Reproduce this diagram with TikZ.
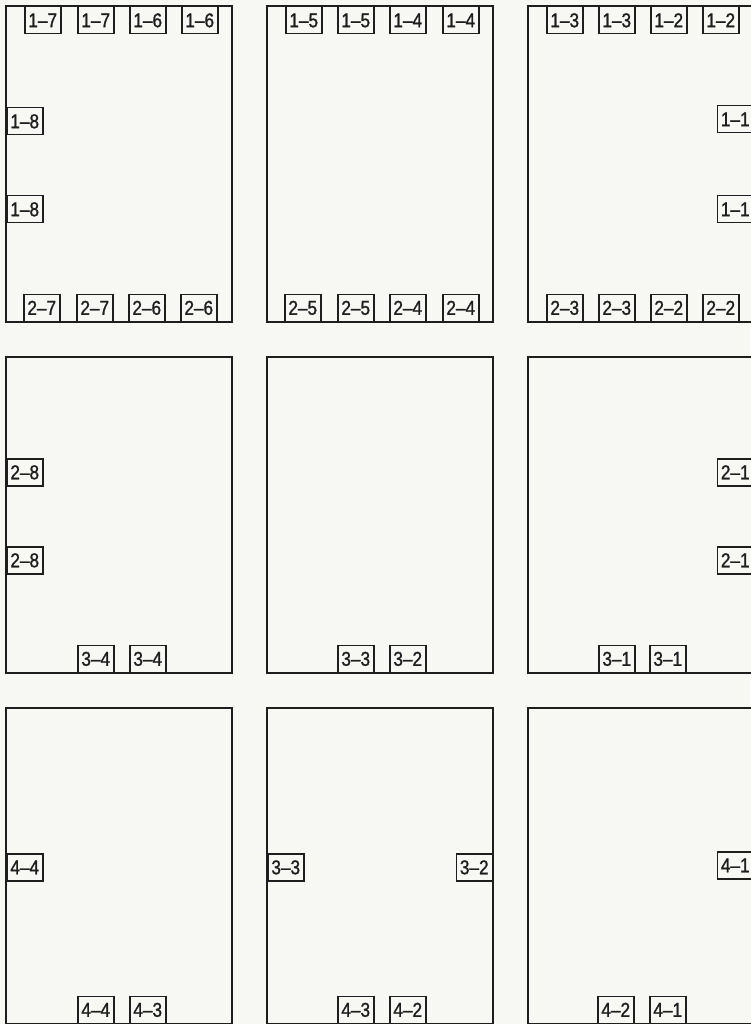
\documentclass[tikz,border=0pt]{standalone}
\usepackage{fontspec}
\setmainfont{Liberation Sans}
\newfontfamily\tagfont{Liberation Sans}[FakeStretch=0.86,FakeBold=1.2]
\usepackage{tikz}
\usetikzlibrary{positioning}
\definecolor{paper}{HTML}{F7F7F4}
\definecolor{ink}{HTML}{1E1E1E}

\begin{document}
\begin{tikzpicture}[
    x=1pt, y=-1pt,
    every node/.style={font=\tagfont\fontsize{20}{20}\selectfont},
    panel/.style={draw=ink, fill=paper, line width=1.9pt},
    tag/.style={draw=ink, fill=paper, line width=1.5pt, minimum width=36pt, minimum height=27pt,
                inner sep=0pt, text height=14pt, text depth=0pt, text=ink}
]

% Page background
\fill[paper] (0,0) rectangle (750,1024);
\useasboundingbox (0,0) rectangle (750,1024);

% Row 1, left panel
\begin{scope}[shift={(6,6)}]
  \draw[panel] (0,0) rectangle (226,316);
  \foreach \x/\t [count=\i] in {18/1–7,71/1–7,123/1–6,175/1–6}
    \node[tag, anchor=north west] (aa-t\i) at (\x,0) {\t};
  \foreach \y [count=\i] in {101,189}
    \node[tag, anchor=north west] (aa-l\i) at (0,\y) {1–8};
  \foreach \x/\t [count=\i] in {17/2–7,70/2–7,122/2–6,174/2–6}
    \node[tag, anchor=south west] (aa-b\i) at (\x,316) {\t};
\end{scope}

% Row 1, middle panel
\begin{scope}[shift={(267,6)}]
  \draw[panel] (0,0) rectangle (226,316);
  \foreach \x/\t [count=\i] in {18/1–5,70/1–5,122/1–4,175/1–4}
    \node[tag, anchor=north west] (ab-t\i) at (\x,0) {\t};
  \foreach \x/\t [count=\i] in {17/2–5,70/2–5,122/2–4,175/2–4}
    \node[tag, anchor=south west] (ab-b\i) at (\x,316) {\t};
\end{scope}

% Row 1, right panel
\begin{scope}[shift={(528,6)}]
  \draw[panel] (0,0) rectangle (226,316);
  \foreach \x/\t [count=\i] in {18/1–3,70/1–3,122/1–2,174/1–2}
    \node[tag, anchor=north west] (ac-t\i) at (\x,0) {\t};
  \foreach \y [count=\i] in {99,189}
    \node[tag, anchor=north east] (ac-r\i) at (226,\y) {1–1};
  \foreach \x/\t [count=\i] in {18/2–3,70/2–3,122/2–2,174/2–2}
    \node[tag, anchor=south west] (ac-b\i) at (\x,316) {\t};
\end{scope}

% Row 2, left panel
\begin{scope}[shift={(6,357)}]
  \draw[panel] (0,0) rectangle (226,316);
  \foreach \y [count=\i] in {101,189}
    \node[tag, anchor=north west] (ba-l\i) at (0,\y) {2–8};
  \foreach \x [count=\i] in {71,123}
    \node[tag, anchor=south west] (ba-b\i) at (\x,316) {3–4};
\end{scope}

% Row 2, middle panel
\begin{scope}[shift={(267,357)}]
  \draw[panel] (0,0) rectangle (226,316);
  \foreach \x/\t [count=\i] in {70/3–3,122/3–2}
    \node[tag, anchor=south west] (bb-b\i) at (\x,316) {\t};
\end{scope}

% Row 2, right panel
\begin{scope}[shift={(528,357)}]
  \draw[panel] (0,0) rectangle (226,316);
  \foreach \y [count=\i] in {101,189}
    \node[tag, anchor=north east] (bc-r\i) at (226,\y) {2–1};
  \foreach \x [count=\i] in {70,121}
    \node[tag, anchor=south west] (bc-b\i) at (\x,316) {3–1};
\end{scope}

% Row 3, left panel
\begin{scope}[shift={(6,708)}]
  \draw[panel] (0,0) rectangle (226,316);
  \node[tag, anchor=north west] (ca-l1) at (0,145) {4–4};
  \foreach \x/\t [count=\i] in {71/4–4,123/4–3}
    \node[tag, anchor=south west] (ca-b\i) at (\x,316) {\t};
\end{scope}

% Row 3, middle panel
\begin{scope}[shift={(267,708)}]
  \draw[panel] (0,0) rectangle (226,316);
  \node[tag, anchor=north west] (cb-l1) at (0,145) {3–3};
  \node[tag, anchor=north east] (cb-r1) at (226,145) {3–2};
  \foreach \x/\t [count=\i] in {70/4–3,122/4–2}
    \node[tag, anchor=south west] (cb-b\i) at (\x,316) {\t};
\end{scope}

% Row 3, right panel
\begin{scope}[shift={(528,708)}]
  \draw[panel] (0,0) rectangle (226,316);
  \node[tag, anchor=north east] (cc-r1) at (226,143) {4–1};
  \foreach \x/\t [count=\i] in {69/4–2,121/4–1}
    \node[tag, anchor=south west] (cc-b\i) at (\x,316) {\t};
\end{scope}

\end{tikzpicture}
\end{document}
